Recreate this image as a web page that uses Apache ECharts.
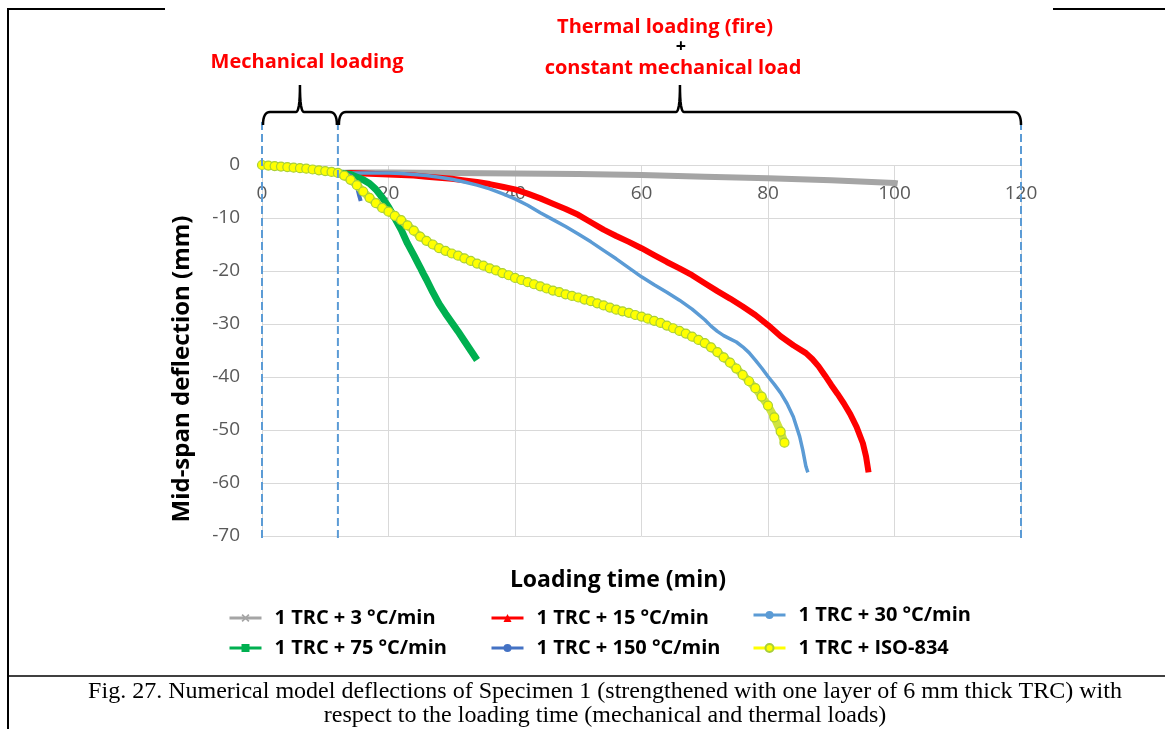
<!DOCTYPE html>
<html><head><meta charset="utf-8">
<script src="https://cdn.jsdelivr.net/npm/echarts@6/dist/echarts.min.js"></script>
<style>html,body{margin:0;padding:0;background:#fff}#c{width:1165px;height:729px}</style>
</head><body><div id="c"></div>
<script>
// ---------- DATA ----------
const seriesNames = ['1 TRC + 3 °C/min','1 TRC + 15 °C/min','1 TRC + 30 °C/min','1 TRC + 75 °C/min','1 TRC + 150 °C/min','1 TRC + ISO-834'];
const xTicks = [0,20,40,60,80,100,120];
const yTicks = [0,-10,-20,-30,-40,-50,-60,-70];
const phaseBounds = [0,12,120];

// shared mechanical loading phase (min, mm)
const mechT = [0,1,2,3,4,5,6,7,8,9,10,11,12];
const mechY = [0,-0.1,-0.2,-0.3,-0.4,-0.5,-0.6,-0.7,-0.85,-1.0,-1.15,-1.3,-1.5];

const grayT = [14,20,30,40,50,60,70,80,90,100,100.5];
const grayY = [-1.4,-1.4,-1.5,-1.6,-1.7,-1.9,-2.2,-2.5,-2.9,-3.4,-3.5];

const redT = [14,16,18,20,22,24,26,28,30,32,34,36,38,40,42,44,46,48,50,52,54,56,58,60,62,64,66,68,70,72,74,76,78,80,82,84,86,87,88,89,90,91,92,93,94,95,95.5,95.9];
const redY = [-1.5,-1.6,-1.7,-1.8,-1.9,-2.0,-2.2,-2.4,-2.6,-2.9,-3.2,-3.6,-4.1,-4.6,-5.4,-6.3,-7.3,-8.3,-9.4,-10.8,-12.2,-13.4,-14.5,-15.7,-17.0,-18.3,-19.5,-20.8,-22.3,-23.8,-25.2,-26.7,-28.3,-30.2,-32.3,-34.0,-35.5,-36.6,-38.0,-39.7,-41.5,-43.2,-45.0,-47.0,-49.4,-52.5,-55.0,-58.0];

const blueT = [14,16,18,20,22,24,26,28,30,32,34,36,38,40,42,44,46,48,50,52,54,56,58,60,62,64,66,68,70,71,72,73,74,75,76,77,78,79,80,81,82,83,84,85,85.5,86,86.3];
const blueY = [-1.5,-1.5,-1.5,-1.5,-1.6,-1.8,-2.0,-2.3,-2.7,-3.2,-3.8,-4.5,-5.4,-6.4,-7.6,-9.0,-10.3,-11.6,-13.0,-14.5,-16.1,-17.7,-19.4,-21.1,-22.6,-24.0,-25.5,-27.2,-29.2,-30.4,-31.4,-32.2,-32.8,-33.4,-34.3,-35.4,-36.8,-38.3,-39.9,-41.4,-43.0,-45.0,-47.5,-51.2,-53.8,-56.9,-58.0];

const greenT = [13,14,15,16,17,18,19,20,21,22,23,24,25,25.5,26,27,28,29,30,31,32,33,34];
const greenY = [-1.6,-1.8,-2.3,-2.8,-3.5,-4.6,-6.1,-7.9,-10.0,-12.2,-14.8,-17.0,-19.3,-20.5,-21.6,-24.0,-26.2,-28.0,-29.7,-31.4,-33.2,-35.0,-36.8];

const darkT = [13,14,14.5,15,15.3,15.6];
const darkY = [-1.6,-2.0,-2.7,-4.0,-5.5,-6.8];

const isoT = [13,14,15,16,17,18,19,20,21,22,23,24,25,26,27,28,29,30,31,32,33,34,35,36,37,38,39,40,41,42,43,44,45,46,47,48,49,50,51,52,53,54,55,56,57,58,59,60,61,62,63,64,65,66,67,68,69,70,71,72,73,74,75,76,77,78,79,80,81,82,82.6];
const isoY = [-2.0,-2.8,-3.8,-5.0,-6.2,-7.2,-8.1,-8.8,-9.6,-10.4,-11.4,-12.4,-13.5,-14.3,-15.0,-15.7,-16.2,-16.7,-17.1,-17.6,-18.1,-18.6,-19.0,-19.5,-19.9,-20.4,-20.8,-21.3,-21.7,-22.1,-22.5,-22.9,-23.3,-23.7,-24.0,-24.4,-24.7,-25.0,-25.4,-25.7,-26.1,-26.5,-26.9,-27.3,-27.6,-27.9,-28.3,-28.6,-29.0,-29.4,-29.8,-30.3,-30.8,-31.3,-31.8,-32.4,-33.0,-33.6,-34.4,-35.3,-36.3,-37.3,-38.4,-39.6,-40.8,-42.1,-43.7,-45.4,-47.6,-50.3,-52.4];

// ---------- BUILD ----------
function pts(t, y) { return mechT.map((v,i)=>[v,mechY[i]]).concat(t.map((v,i)=>[v,y[i]])); }
const FONT = 'Open Sans';
const chart = echarts.init(document.getElementById('c'), null, {renderer:'canvas'});

const xMark = 'path://M0,1.5L1.5,0L5,3.5L8.5,0L10,1.5L6.5,5L10,8.5L8.5,10L5,6.5L1.5,10L0,8.5L3.5,5Z';
const styles = [
  {color:'#A5A5A5', w:6, sym:xMark, size:7},
  {color:'#FF0000', w:6, sym:'triangle', size:7},
  {color:'#5B9BD5', w:3.5, sym:'circle', size:4},
  {color:'#00B050', w:7, sym:'rect', size:7},
  {color:'#4472C4', w:4, sym:'circle', size:7},
  {color:'#FFFF00', w:2, sym:'circle', size:9, border:'#A9CF38'}
];
const dataSets = [pts(grayT,grayY), pts(redT,redY), pts(blueT,blueY), pts(greenT,greenY), pts(darkT,darkY), pts(isoT,isoY)];

const series = seriesNames.map((n,i)=>{
  const s = styles[i];
  const isIso = i===5;
  return {
    name:n, type:'line', data:dataSets[i], z: 2+i,
    symbol:s.sym, symbolSize:s.size, showSymbol:isIso,
    lineStyle:{color:isIso?'#CFE43E':s.color, width:isIso?8:s.w},
    itemStyle:{color:s.color, borderColor:s.border||s.color, borderWidth:isIso?1.2:0},
    animation:false
  };
});

// legend placements
const legPos = [[228,608],[490,608],[752,605],[228,638],[490,638],[752,638]];
const legends = seriesNames.map((n,i)=>({
  data:[{name:n, itemStyle:{color:styles[i].color, borderColor:styles[i].border||styles[i].color}, lineStyle:{color:styles[i].color, width:3}}],
  left:legPos[i][0], top:legPos[i][1], padding:0,
  itemWidth:32, itemHeight:10,
  textStyle:{fontFamily:FONT, fontWeight:'bold', fontSize:20, color:'#000', padding:[0,0,0,8]}
}));

const option = {
  backgroundColor:'#fff',
  animation:false,
  textStyle:{fontFamily:FONT},
  grid:{left:262, right:144, top:165, bottom:193, containLabel:false},
  xAxis:{type:'value', min:0, max:120, interval:20, position:'top',
    axisLine:{show:false, onZero:false}, axisTick:{show:false},
    axisLabel:{inside:true, color:'#595959', fontSize:19, margin:19, fontFamily:FONT, verticalAlign:'top', customValues:xTicks},
    splitLine:{show:true, lineStyle:{color:'#D9D9D9', width:1}}},
  yAxis:{type:'value', min:-70, max:0, interval:10,
    axisLine:{show:false}, axisTick:{show:false},
    axisLabel:{color:'#595959', fontSize:19, margin:22, fontFamily:FONT, customValues:yTicks},
    splitLine:{show:true, lineStyle:{color:'#D9D9D9', width:1}}},
  legend:legends,
  series:series
};
chart.setOption(option);

// ---------- ANNOTATIONS ----------
const g = [];
const px = v => chart.convertToPixel({gridIndex:0}, [v, 0])[0];
const xs = phaseBounds.map(px);
// dashed phase lines
xs.forEach(x=>g.push({type:'line', shape:{x1:x,y1:122,x2:x,y2:540}, style:{stroke:'#5B9BD5', lineWidth:2, lineDash:[8,4]}, z:50}));
// braces (quadratic corners approximated with polylines)
function quad(p0,p1,p2,n){const r=[];for(let k=0;k<=n;k++){const t=k/n,u=1-t;r.push([u*u*p0[0]+2*u*t*p1[0]+t*t*p2[0], u*u*p0[1]+2*u*t*p1[1]+t*t*p2[1]]);}return r;}
function brace(a, b){
  const m = (a+b)/2, yH=112, yE=125, yT=85;
  let p = [];
  p = p.concat(quad([a,yE],[a,yH],[a+7,yH],8));
  p = p.concat(quad([m-4,yH],[m,yH],[m,yT],8));
  p = p.concat(quad([m,yT],[m,yH],[m+4,yH],8));
  p = p.concat(quad([b-7,yH],[b,yH],[b,yE],8));
  return {type:'polyline', shape:{points:p}, style:{stroke:'#000', lineWidth:2.5, fill:null}, z:50};
}
g.push(brace(xs[0]+1, xs[1]-1));
g.push(brace(xs[1]+1, xs[2]));
// texts
const red = {fill:'#FF0000', fontFamily:FONT, fontWeight:'bold', fontSize:20, align:'center', verticalAlign:'middle'};
g.push({type:'text', x:307, y:62, style:Object.assign({text:'Mechanical loading'}, red)});
g.push({type:'text', x:665, y:27, style:Object.assign({text:'Thermal loading (fire)'}, red)});
g.push({type:'text', x:681, y:47, style:Object.assign({text:'+'}, red, {fill:'#000', fontSize:18})});
g.push({type:'text', x:673, y:68, style:Object.assign({text:'constant mechanical load'}, red)});
// axis titles
g.push({type:'text', x:182, y:369, rotation:Math.PI/2, style:{text:'Mid-span deflection (mm)', fill:'#000', fontFamily:FONT, fontWeight:'bold', fontSize:24, align:'center', verticalAlign:'middle'}});
g.push({type:'text', x:618, y:580, style:{text:'Loading time (min)', fill:'#000', fontFamily:FONT, fontWeight:'bold', fontSize:23, align:'center', verticalAlign:'middle'}});
// frame
const fr = {stroke:'#000', lineWidth:2};
g.push({type:'line', shape:{x1:8,y1:9,x2:165,y2:9}, style:fr});
g.push({type:'line', shape:{x1:1053,y1:9,x2:1165,y2:9}, style:fr});
g.push({type:'line', shape:{x1:8,y1:8,x2:8,y2:729}, style:fr});
g.push({type:'line', shape:{x1:8,y1:676,x2:1165,y2:676}, style:{stroke:'#000', lineWidth:1.5}});
// caption
const cap = {fill:'#000', fontFamily:'Liberation Serif', fontSize:24, align:'center', verticalAlign:'middle'};
g.push({type:'text', x:605, y:692, style:Object.assign({text:'Fig. 27. Numerical model deflections of Specimen 1 (strengthened with one layer of 6 mm thick TRC) with'}, cap)});
g.push({type:'text', x:605, y:716, style:Object.assign({text:'respect to the loading time (mechanical and thermal loads)'}, cap)});
chart.setOption({graphic:g});
</script></body></html>
